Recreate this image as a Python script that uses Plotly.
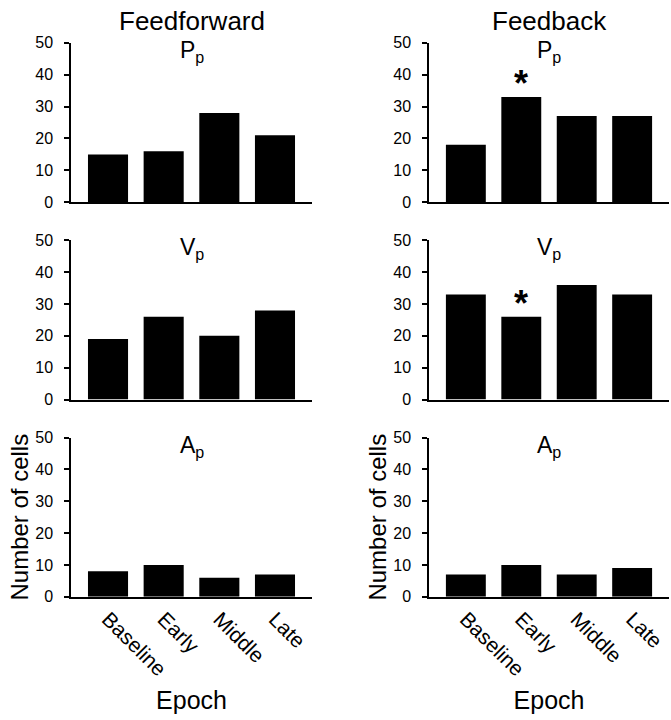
import plotly.graph_objects as go

epochs = ["Baseline", "Early", "Middle", "Late"]
col_titles = ["Feedforward", "Feedback"]
panel_labels = ["P<sub>p</sub>", "V<sub>p</sub>", "A<sub>p</sub>"]

ff_pp = [15, 16, 28, 21]
ff_vp = [19, 26, 20, 28]
ff_ap = [8, 10, 6, 7]
fb_pp = [18, 33, 27, 27]
fb_vp = [33, 26, 36, 33]
fb_ap = [7, 10, 7, 9]

y_ticks = [0, 10, 20, 30, 40, 50]
# significance markers: (row, col, epoch)
stars = [(0, 1, "Early"), (1, 1, "Early")]

data = [[ff_pp, fb_pp], [ff_vp, fb_vp], [ff_ap, fb_ap]]

W, H = 671, 720
x_dom = [[71 / W, 312 / W], [429 / W, 669 / W]]
y_px = [(35.5, 199), (238, 401), (440, 603)]
y_dom = [[1 - b / H, 1 - t / H] for t, b in y_px]

FONT = "Liberation Sans, Arial, sans-serif"
fig = go.Figure()
layout = {}
annotations = []
for r in range(3):
    for c in range(2):
        idx = r * 2 + c + 1
        xa = "x" if idx == 1 else f"x{idx}"
        ya = "y" if idx == 1 else f"y{idx}"
        vals = data[r][c]
        fig.add_trace(go.Bar(x=epochs, y=vals, xaxis=xa, yaxis=ya,
                             marker=dict(color="black", line=dict(width=0)),
                             width=0.72, showlegend=False, hoverinfo="x+y"))
        xkey = "xaxis" if idx == 1 else f"xaxis{idx}"
        ykey = "yaxis" if idx == 1 else f"yaxis{idx}"
        layout[xkey] = dict(domain=x_dom[c], anchor=ya, range=[-0.665, 3.665],
                            showline=True, linecolor="black", linewidth=1.5,
                            ticks="", showgrid=False, zeroline=False,
                            showticklabels=(r == 2), tickangle=45,
                            tickfont=dict(family=FONT, size=21, color="black"),
                            fixedrange=True)
        layout[ykey] = dict(domain=y_dom[r], anchor=xa, range=[0, 50],
                            tickvals=y_ticks, showline=True, linecolor="black",
                            linewidth=1.5, ticks="outside", ticklen=5, tickwidth=1.5,
                            tickcolor="black", showgrid=False, zeroline=False,
                            ticklabelstandoff=8,
                            tickfont=dict(family=FONT, size=16, color="black"),
                            fixedrange=True)
        if r == 2:
            layout[ykey]["title"] = dict(text="Number of cells",
                                         font=dict(family=FONT, size=24, color="black"),
                                         standoff=0)
            layout[xkey]["title"] = dict(text="Epoch",
                                         font=dict(family=FONT, size=25, color="black"),
                                         standoff=12)
        annotations.append(dict(text=panel_labels[r], x=sum(x_dom[c]) / 2,
                                xref="paper", y=1, yref=f"{ya} domain",
                                xanchor="center", yanchor="top", yshift=8,
                                showarrow=False,
                                font=dict(family=FONT, size=23, color="black")))

for r, c, ep in stars:
    idx = r * 2 + c + 1
    xa = "x" if idx == 1 else f"x{idx}"
    ya = "y" if idx == 1 else f"y{idx}"
    v = data[r][c][epochs.index(ep)]
    annotations.append(dict(text="<b>*</b>", x=ep, y=v, xref=xa, yref=ya,
                            xanchor="center", yanchor="bottom", yshift=-9,
                            showarrow=False,
                            font=dict(family=FONT, size=36, color="black")))

for c in range(2):
    annotations.append(dict(text=col_titles[c], x=sum(x_dom[c]) / 2, xref="paper",
                            y=1 - 13 / H, yref="paper", xanchor="center",
                            yanchor="middle", showarrow=False,
                            font=dict(family=FONT, size=26, color="black")))

fig.update_layout(**layout)
fig.update_layout(annotations=annotations, width=W, height=H,
                  margin=dict(l=0, r=0, t=0, b=0), paper_bgcolor="white",
                  plot_bgcolor="white", bargap=0.28,
                  font=dict(family=FONT, color="black"))
fig.write_html("out.html", config={"displayModeBar": False},
               post_script="document.body.style.margin='0';document.body.style.padding='0';")
